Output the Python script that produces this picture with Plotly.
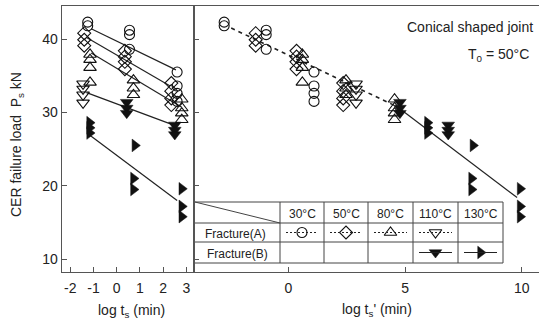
import plotly.graph_objects as go

FONT = "Liberation Sans, Arial, Helvetica, sans-serif"
W, H = 539, 325

# ---------------- data (left panel: log ts [min], failure load Ps [kN]) ----------------
temps = ["30°C", "50°C", "80°C", "110°C", "130°C"]
log_aT = [-1.5, 0.0, 1.75, 4.35, 7.13]          # shift factors to T0 = 50°C

c30_x = [-1.25, -1.25, 0.55, 0.55, 0.55, 2.6, 2.6, 2.6, 2.6]
c30_y = [42.3, 41.8, 41.2, 40.6, 38.6, 35.5, 33.6, 32.6, 31.5]

d50_x = [-1.4, -1.4, -1.4, 0.35, 0.35, 0.35, 0.35, 2.35, 2.35, 2.35, 2.35]
d50_y = [40.8, 39.9, 39.1, 38.4, 37.6, 36.9, 35.9, 34.0, 32.9, 31.9, 31.0]

t80_x = [-1.15, -1.15, -1.15, -1.15, 0.72, 0.72, 0.72, 2.8, 2.8, 2.8, 2.8]
t80_y = [37.9, 37.2, 36.1, 34.1, 34.4, 33.3, 32.4, 31.8, 30.6, 29.9, 29.0]

t110a_x = [-1.45, -1.45, -1.45, -1.45]
t110a_y = [33.9, 33.2, 32.4, 31.3]

t110b_x = [0.43, 0.43, 0.43, 2.5, 2.5, 2.5]
t110b_y = [31.4, 30.6, 29.9, 28.3, 27.6, 27.0]

t130b_x = [-1.17, -1.17, -1.17, 0.78, 0.72, 0.72, 2.8, 2.8, 2.8]
t130b_y = [28.6, 27.9, 27.2, 25.5, 21.0, 19.5, 19.6, 17.2, 15.8]

# regression lines (left panel), per temperature
fit_x0 = [-1.1, -1.3, -1.1, -1.3, -1.2]
fit_x1 = [2.55, 2.3, 2.8, 2.6, 2.6]
fit_y0 = [41.4, 40.2, 38.1, 32.7, 27.0]
fit_y1 = [35.8, 33.6, 30.7, 28.1, 18.0]

# master curve lines (right panel)
mA_x = [-2.45, 4.65]
mA_y = [41.5, 30.8]
mB_x = [4.65, 9.8]
mB_y = [30.8, 18.4]

left_ticks = [-2, -1, 0, 1, 2, 3]
left_ticktext = ["-2", "-1", "0", "1", "2", "3"]
right_ticks = [0, 5, 10]
y_ticks = [10, 20, 30, 40]

# ---------------- styles ----------------
INK = "#111"
FRAME = "#555"
groups = [
    (c30_x, c30_y, 0, dict(symbol="circle-open", size=10, color=INK, line=dict(width=1.1, color=INK))),
    (d50_x, d50_y, 1, dict(symbol="diamond-open", size=10, color=INK, line=dict(width=1.1, color=INK))),
    (t80_x, t80_y, 2, dict(symbol="triangle-up-open", size=11, color=INK, line=dict(width=1.1, color=INK))),
    (t110a_x, t110a_y, 3, dict(symbol="triangle-down-open", size=11, color=INK, line=dict(width=1.1, color=INK))),
    (t110b_x, t110b_y, 3, dict(symbol="triangle-down", size=11, color=INK, line=dict(width=0.5, color=INK))),
    (t130b_x, t130b_y, 4, dict(symbol="triangle-right", size=11, color=INK, line=dict(width=0.5, color=INK))),
]

fig = go.Figure()

# left panel fit lines
for i in range(len(temps)):
    fig.add_trace(go.Scatter(x=[fit_x0[i], fit_x1[i]], y=[fit_y0[i], fit_y1[i]], mode="lines",
                             line=dict(color="#222", width=1.2), xaxis="x", yaxis="y",
                             showlegend=False, hoverinfo="skip"))
# right panel master lines
fig.add_trace(go.Scatter(x=mA_x, y=mA_y, mode="lines", line=dict(color="#222", width=1.6, dash="4px,4px"),
                         xaxis="x2", yaxis="y2", showlegend=False, hoverinfo="skip"))
fig.add_trace(go.Scatter(x=mB_x, y=mB_y, mode="lines", line=dict(color="#222", width=1.2),
                         xaxis="x2", yaxis="y2", showlegend=False, hoverinfo="skip"))

for gx, gy, ti, mk in groups:
    fig.add_trace(go.Scatter(x=gx, y=gy, mode="markers", marker=mk, xaxis="x", yaxis="y", showlegend=False))
    fig.add_trace(go.Scatter(x=[v + log_aT[ti] for v in gx], y=gy, mode="markers", marker=mk,
                             xaxis="x2", yaxis="y2", showlegend=False))

# ---------------- legend table (overlay pixel axes) ----------------
col_x = [195, 280, 324, 368, 413, 458, 503]
row_y = [202, 223, 242, 263]
shapes = []
for yy in row_y:
    shapes.append(dict(type="line", xref="x3", yref="y3", x0=col_x[0], x1=col_x[-1], y0=yy, y1=yy,
                       line=dict(color="#444", width=1)))
for xx in col_x[1:]:
    shapes.append(dict(type="line", xref="x3", yref="y3", x0=xx, x1=xx, y0=row_y[0], y1=row_y[-1],
                       line=dict(color="#444", width=1)))
shapes.append(dict(type="line", xref="x3", yref="y3", x0=col_x[0], x1=col_x[1], y0=row_y[0], y1=row_y[1],
                   line=dict(color="#444", width=1)))

annotations = []
for j, t in enumerate(temps):
    cx = (col_x[j + 1] + col_x[j + 2]) / 2
    annotations.append(dict(x=cx, y=(row_y[0] + row_y[1]) / 2 + 1, xref="x3", yref="y3", text=t,
                            showarrow=False, font=dict(size=12, family=FONT, color="#222")))
annotations.append(dict(x=(col_x[0] + col_x[1]) / 2 - 2, y=(row_y[1] + row_y[2]) / 2 + 1, xref="x3", yref="y3",
                        text="Fracture(A)", showarrow=False, font=dict(size=12, family=FONT, color="#222")))
annotations.append(dict(x=(col_x[0] + col_x[1]) / 2, y=(row_y[2] + row_y[3]) / 2 + 1, xref="x3", yref="y3",
                        text="Fracture(B)", showarrow=False, font=dict(size=12, family=FONT, color="#222")))

# legend samples: row A (dashed) for 30,50,80,110 ; row B (solid) for 110,130
legend_rows = [(1, [0, 1, 2, 3], [0, 1, 2, 3], "2px,2px"), (2, [3, 4], [4, 5], "solid")]
for r, cols, gidx, dash in legend_rows:
    ymid = (row_y[r] + row_y[r + 1]) / 2
    for c, g in zip(cols, gidx):
        x0, x1 = col_x[c + 1], col_x[c + 2]
        cx = (x0 + x1) / 2
        shapes.append(dict(type="line", xref="x3", yref="y3", x0=x0 + 6, x1=x1 - 6, y0=ymid, y1=ymid,
                           line=dict(color="#222", width=1, dash=dash)))
        fig.add_trace(go.Scatter(x=[cx], y=[ymid], mode="markers",
                                 marker=dict(groups[g][3], color=("white" if "open" in groups[g][3]["symbol"] else INK),
                                             symbol=groups[g][3]["symbol"].replace("-open", "")) if "open" in groups[g][3]["symbol"] else groups[g][3],
                                 xaxis="x3", yaxis="y3", showlegend=False, hoverinfo="skip"))

# text annotations
annotations += [
    dict(x=535, y=27, xref="x3", yref="y3", xanchor="right", text="Conical shaped joint", showarrow=False,
         font=dict(size=14, family=FONT, color="#222")),
    dict(x=531, y=55, xref="x3", yref="y3", xanchor="right", text="T<sub>0</sub> = 50°C", showarrow=False,
         font=dict(size=14, family=FONT, color="#222")),
    dict(x=17, y=145, xref="x3", yref="y3", textangle=-90, text="CER failure load  P<sub>s</sub> kN",
         showarrow=False, font=dict(size=14, family=FONT, color="#222")),
    dict(x=131, y=311, xref="x3", yref="y3", text="log t<sub>s</sub> (min)", showarrow=False,
         font=dict(size=14, family=FONT, color="#222")),
    dict(x=377, y=310, xref="x3", yref="y3", text="log t<sub>s</sub>' (min)", showarrow=False,
         font=dict(size=14, family=FONT, color="#222")),
]

ax = dict(showline=True, linecolor=FRAME, linewidth=1.2, ticks="inside", ticklen=5, tickcolor=FRAME,
          tickwidth=1, showgrid=False, zeroline=False,
          tickfont=dict(size=14, family=FONT, color="#222"))

xL0, xL1 = 61.7 / W, 194.3 / W
yB, yT = (H - 271.7) / H, (H - 6) / H

fig.update_layout(
    width=W, height=H, margin=dict(l=0, r=0, t=0, b=0),
    paper_bgcolor="white", plot_bgcolor="rgba(0,0,0,0)",
    font=dict(family=FONT, color="#222"),
    xaxis=dict(ax, domain=[xL0, xL1], range=[-2.37, 3.34], tickvals=left_ticks, ticktext=left_ticktext,
               mirror=True, anchor="y", ticklabelstandoff=3),
    yaxis=dict(ax, domain=[yB, yT], range=[8.3, 44.5], tickvals=y_ticks, mirror=True, anchor="x"),
    xaxis2=dict(ax, domain=[xL1, 1.0], range=[-4.03, 10.74], tickvals=right_ticks, mirror=True, anchor="y2",
                ticklabelstandoff=3),
    yaxis2=dict(ax, domain=[yB, yT], range=[8.3, 44.5], tickvals=y_ticks, showticklabels=False, anchor="x2"),
    xaxis3=dict(domain=[0, 1], range=[0, W], visible=False, anchor="y3", fixedrange=True),
    yaxis3=dict(domain=[0, 1], range=[H, 0], visible=False, anchor="x3", fixedrange=True),
    shapes=shapes, annotations=annotations, showlegend=False,
)

fig.write_html("out.html")
